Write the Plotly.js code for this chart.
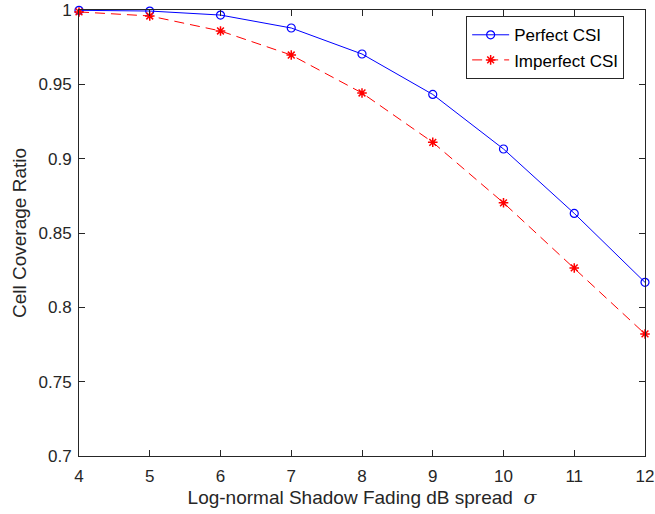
<!DOCTYPE html>
<html>
<head>
<meta charset="utf-8">
<script src="https://cdn.plot.ly/plotly-3.0.1.min.js"></script>
<style>html,body{margin:0;padding:0;background:#fff;}#chart{width:655px;height:514px;}</style>
</head>
<body>
<div id="chart"></div>
<script>
var sigma = [4, 5, 6, 7, 8, 9, 10, 11, 12];
var perfectCSI = [0.9998, 0.9993, 0.9966, 0.9879, 0.9704, 0.9432, 0.9065, 0.8632, 0.8168];
var imperfectCSI = [0.9987, 0.9960, 0.9859, 0.9697, 0.9442, 0.9110, 0.8703, 0.8265, 0.7821];
var xTicks = [4, 5, 6, 7, 8, 9, 10, 11, 12];
var yTicks = [0.7, 0.75, 0.8, 0.85, 0.9, 0.95, 1];
var yTickText = ['0.7', '0.75', '0.8', '0.85', '0.9', '0.95', '1'];

var font = 'Liberation Sans, Arial, Helvetica, sans-serif';
var axisColor = '#262626';

var traces = [
  {
    x: sigma, y: perfectCSI, name: 'Perfect CSI', type: 'scatter', mode: 'lines+markers',
    cliponaxis: false,
    line: {color: '#0000ff', width: 1},
    marker: {symbol: 'circle-open', size: 8, color: '#0000ff', line: {width: 1.2, color: '#0000ff'}}
  },
  {
    x: sigma, y: imperfectCSI, name: 'Imperfect CSI', type: 'scatter', mode: 'lines+markers',
    cliponaxis: false,
    line: {color: '#ff0000', width: 1, dash: '10px,6px'},
    marker: {symbol: 'asterisk-open', size: 8, color: '#ff0000', line: {width: 1.5, color: '#ff0000'}}
  }
];

var layout = {
  width: 655, height: 514,
  margin: {l: 79, r: 10, t: 10, b: 58},
  paper_bgcolor: '#ffffff', plot_bgcolor: '#ffffff',
  font: {family: font, size: 17, color: axisColor},
  showlegend: true,
  legend: {
    x: 0.684, y: 0.986, xanchor: 'left', yanchor: 'top',
    bgcolor: '#ffffff', bordercolor: axisColor, borderwidth: 1,
    font: {family: font, size: 17, color: '#000000'},
    tracegroupgap: 0, itemwidth: 37
  },
  xaxis: {
    range: [4, 12], tickvals: xTicks, ticktext: xTicks.map(String),
    showgrid: false, zeroline: false, automargin: false,
    showline: true, linecolor: axisColor, linewidth: 1, mirror: 'ticks',
    ticks: 'inside', ticklen: 6, tickcolor: axisColor, tickwidth: 1,
    ticklabelstandoff: 5,
    tickfont: {family: font, size: 17, color: axisColor},
    title: {text: 'Log-normal Shadow Fading dB spread  <i><span style="font-family:DejaVu Serif, serif">σ</span></i>', font: {family: font, size: 19, color: axisColor}, standoff: 0}
  },
  yaxis: {
    range: [0.7, 1], tickvals: yTicks, ticktext: yTickText,
    showgrid: false, zeroline: false, automargin: false,
    showline: true, linecolor: axisColor, linewidth: 1, mirror: 'ticks',
    ticks: 'inside', ticklen: 6, tickcolor: axisColor, tickwidth: 1,
    ticklabelstandoff: 3,
    tickfont: {family: font, size: 17, color: axisColor},
    title: {text: 'Cell Coverage Ratio', font: {family: font, size: 19, color: axisColor}, standoff: 6}
  }
};

Plotly.newPlot('chart', traces, layout, {staticPlot: true, displayModeBar: false});
</script>
</body>
</html>
